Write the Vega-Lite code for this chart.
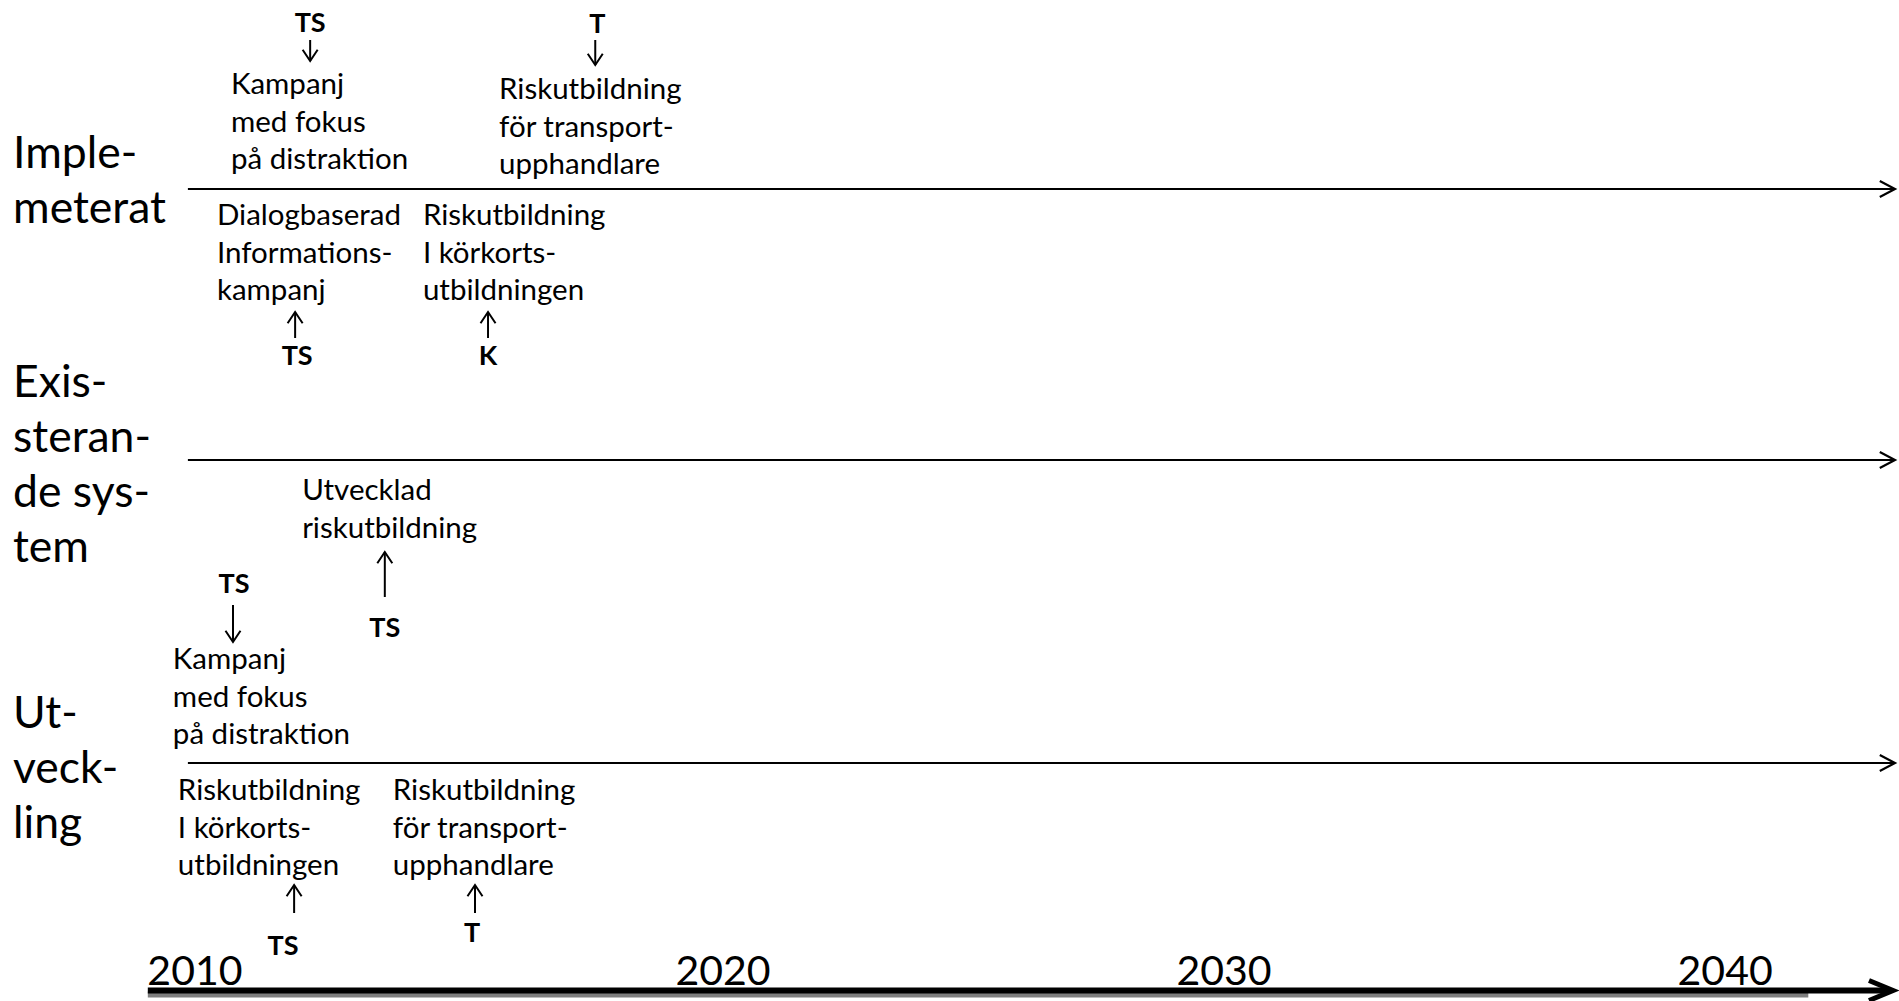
{
  "$schema": "https://vega.github.io/schema/vega-lite/v6.json",
  "width": 1899,
  "height": 1001,
  "padding": 0,
  "autosize": {"type": "none"},
  "background": "white",
  "config": {"view": {"stroke": null}},
  "datasets": {
    "tracks": [
      {"track": "Implemeterat", "start": 2009.32, "end": 2043.39, "level": 189},
      {"track": "Existerande system", "start": 2009.32, "end": 2043.39, "level": 460},
      {"track": "Utveckling", "start": 2009.32, "end": 2043.39, "level": 763}
    ],
    "axisline": [
      {"start": 2008.52, "end": 2043.3, "shadowEnd": 2041.66, "level": 990.5, "tip": 2043.35}
    ],
    "arrows": [
      {"actor": "TS", "x": 2011.76, "tail": 40, "tip": 61, "dir": "down"},
      {"actor": "T", "x": 2017.45, "tail": 40, "tip": 65, "dir": "down"},
      {"actor": "TS", "x": 2011.46, "tail": 338, "tip": 312, "dir": "up"},
      {"actor": "K", "x": 2015.31, "tail": 338, "tip": 312, "dir": "up"},
      {"actor": "TS", "x": 2013.25, "tail": 597, "tip": 552, "dir": "up"},
      {"actor": "TS", "x": 2010.22, "tail": 605, "tip": 642, "dir": "down"},
      {"actor": "TS", "x": 2011.44, "tail": 913, "tip": 885, "dir": "up"},
      {"actor": "T", "x": 2015.05, "tail": 913, "tip": 885, "dir": "up"}
    ],
    "actors": [
      {"label": "TS", "x": 2011.76, "level": 32},
      {"label": "T", "x": 2017.49, "level": 33},
      {"label": "TS", "x": 2011.5, "level": 365},
      {"label": "K", "x": 2015.31, "level": 365},
      {"label": "TS", "x": 2013.25, "level": 637},
      {"label": "TS", "x": 2010.24, "level": 593},
      {"label": "TS", "x": 2011.22, "level": 955},
      {"label": "T", "x": 2014.99, "level": 942}
    ],
    "items": [
      {"label": "Kampanj\nmed fokus\npå distraktion", "x": 2010.18, "level": 94},
      {"label": "Riskutbildning\nför transport-\nupphandlare", "x": 2015.53, "level": 99},
      {"label": "Dialogbaserad\nInformations-\nkampanj", "x": 2009.9, "level": 225},
      {"label": "Riskutbildning\nI körkorts-\nutbildningen", "x": 2014.01, "level": 225},
      {"label": "Utvecklad\n riskutbildning", "x": 2011.6, "level": 500},
      {"label": "Kampanj\nmed fokus\npå distraktion", "x": 2009.02, "level": 669},
      {"label": "Riskutbildning\nI körkorts-\nutbildningen", "x": 2009.12, "level": 800},
      {"label": "Riskutbildning\nför transport-\nupphandlare", "x": 2013.41, "level": 800}
    ],
    "sides": [
      {"label": "Imple-\nmeterat", "x": 2005.83, "level": 168},
      {"label": "Exis-\nsteran-\nde sys-\ntem", "x": 2005.83, "level": 397},
      {"label": "Ut-\nveck-\nling", "x": 2005.83, "level": 728}
    ],
    "years": [
      {"label": "2010", "x": 2009.46, "level": 985},
      {"label": "2020", "x": 2020.0, "level": 985},
      {"label": "2030", "x": 2030.0, "level": 985},
      {"label": "2040", "x": 2040.0, "level": 985}
    ]
  },
  "encoding": {
    "x": {"type": "quantitative", "axis": null, "scale": {"domain": [2005.57, 2043.47], "nice": false, "zero": false}},
    "y": {"type": "quantitative", "axis": null, "scale": {"domain": [0, 1001], "nice": false, "zero": false, "reverse": true}}
  },
  "layer": [
    {
      "data": {"name": "tracks"},
      "mark": {"type": "rule", "color": "black", "strokeWidth": 2.2},
      "encoding": {"x": {"field": "start"}, "x2": {"field": "end"}, "y": {"field": "level"}}
    },
    {
      "data": {"name": "tracks"},
      "mark": {"type": "point", "shape": "M-1.9,-1L0,0L-1.9,1", "size": 256, "filled": false, "stroke": "black", "strokeWidth": 2.2, "opacity": 1},
      "encoding": {"x": {"field": "end"}, "y": {"field": "level"}}
    },
    {
      "data": {"name": "axisline"},
      "mark": {"type": "rule", "color": "#7f7f7f", "strokeWidth": 6},
      "encoding": {"x": {"field": "start"}, "x2": {"field": "shadowEnd"}, "y": {"field": "level"}, "yOffset": {"value": 4}}
    },
    {
      "data": {"name": "axisline"},
      "mark": {"type": "rule", "color": "black", "strokeWidth": 6},
      "encoding": {"x": {"field": "start"}, "x2": {"field": "end"}, "y": {"field": "level"}}
    },
    {
      "data": {"name": "axisline"},
      "mark": {"type": "point", "shape": "M-2.4,-1L0,0L-2.4,1", "size": 400, "filled": false, "stroke": "black", "strokeWidth": 5, "opacity": 1},
      "encoding": {"x": {"field": "tip"}, "y": {"field": "level"}}
    },
    {
      "data": {"name": "arrows"},
      "mark": {"type": "rule", "color": "black", "strokeWidth": 2},
      "encoding": {"x": {"field": "x"}, "y": {"field": "tail"}, "y2": {"field": "tip"}}
    },
    {
      "data": {"name": "arrows"},
      "transform": [{"filter": "datum.dir === 'down'"}],
      "mark": {"type": "point", "shape": "M-1,-1.5L0,0L1,-1.5", "size": 225, "filled": false, "stroke": "black", "strokeWidth": 2, "opacity": 1},
      "encoding": {"x": {"field": "x"}, "y": {"field": "tip"}}
    },
    {
      "data": {"name": "arrows"},
      "transform": [{"filter": "datum.dir === 'up'"}],
      "mark": {"type": "point", "shape": "M-1,1.5L0,0L1,1.5", "size": 225, "filled": false, "stroke": "black", "strokeWidth": 2, "opacity": 1},
      "encoding": {"x": {"field": "x"}, "y": {"field": "tip"}}
    },
    {
      "data": {"name": "actors"},
      "mark": {"type": "text", "font": "Lato", "fontWeight": "bold", "fontSize": 27, "align": "center", "baseline": "alphabetic", "color": "black"},
      "encoding": {"x": {"field": "x"}, "y": {"field": "level"}, "text": {"field": "label", "type": "nominal"}}
    },
    {
      "data": {"name": "items"},
      "mark": {"type": "text", "font": "Lato", "fontSize": 29.5, "align": "left", "baseline": "alphabetic", "lineBreak": "\n", "lineHeight": 37.5, "color": "black"},
      "encoding": {"x": {"field": "x"}, "y": {"field": "level"}, "text": {"field": "label", "type": "nominal"}}
    },
    {
      "data": {"name": "sides"},
      "mark": {"type": "text", "font": "Lato", "fontSize": 44.5, "align": "left", "baseline": "alphabetic", "lineBreak": "\n", "lineHeight": 55, "color": "black"},
      "encoding": {"x": {"field": "x"}, "y": {"field": "level"}, "text": {"field": "label", "type": "nominal"}}
    },
    {
      "data": {"name": "years"},
      "mark": {"type": "text", "font": "Lato", "fontSize": 41, "align": "center", "baseline": "alphabetic", "color": "black"},
      "encoding": {"x": {"field": "x"}, "y": {"field": "level"}, "text": {"field": "label", "type": "nominal"}}
    }
  ]
}
